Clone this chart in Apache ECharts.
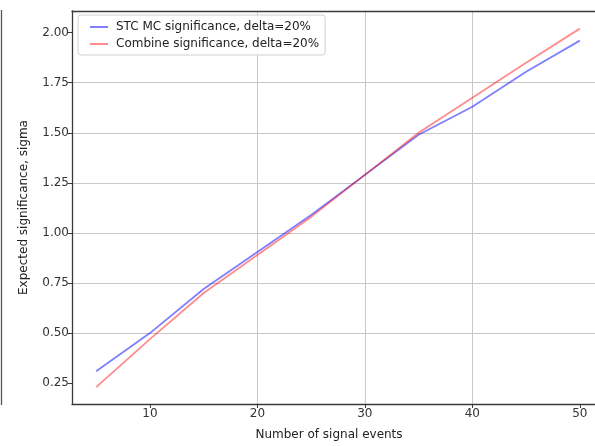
<!DOCTYPE html>
<html>
<head>
<meta charset="utf-8">
<script src="https://cdn.jsdelivr.net/npm/echarts@6/dist/echarts.min.js"></script>
<style>
  html, body { margin: 0; padding: 0; background: #fff; overflow: hidden; width: 595px; height: 446px; }
  /* the plot area continues a few pixels past the right edge of the window */
  #chart { width: 604px; height: 446px; }
</style>
</head>
<body>
<div id="chart"></div>
<script>
// Number of signal events (x)
var signalEvents = [5, 10, 15, 20, 25, 30, 35, 40, 45, 50];
// Expected significance from the STC MC method
var stcMc = [0.31, 0.50, 0.72, 0.905, 1.09, 1.29, 1.49, 1.63, 1.805, 1.96];
// Expected significance from the Combine tool
var combine = [0.23, 0.47, 0.70, 0.89, 1.08, 1.29, 1.50, 1.675, 1.85, 2.02];
// Tick positions
var xTicks = [10, 20, 30, 40, 50];
var yTicks = [0.25, 0.50, 0.75, 1.00, 1.25, 1.50, 1.75, 2.00];

var seriesNames = ['STC MC significance, delta=20%', 'Combine significance, delta=20%'];

function pairs(xs, ys) {
  return xs.map(function (x, i) { return [x, ys[i]]; });
}

var font = 'DejaVu Sans';
var spine = '#3a3a3a';
var gridColor = '#c8c8c8';
var fs = 12;

var chart = echarts.init(document.getElementById('chart'), null, { renderer: 'canvas' });
chart.setOption({
  animation: false,
  backgroundColor: '#fff',
  textStyle: { fontFamily: font },
  grid: {
    left: 72, top: 11, bottom: 37, right: 0,
    show: false
  },
  legend: {
    left: 78, top: 15,
    orient: 'vertical',
    padding: [6, 6, 5, 12],
    itemGap: 5,
    itemWidth: 18, itemHeight: 2,
    icon: 'rect',
    borderColor: '#d0d0d0', borderWidth: 1, borderRadius: 3,
    backgroundColor: 'rgba(255,255,255,0.85)',
    textStyle: { fontFamily: font, fontSize: fs, color: '#222', padding: [0, 0, 0, 3] },
    data: seriesNames
  },
  xAxis: [
    {
      type: 'value',
      min: 2.75, max: 52.25,
      name: 'Number of signal events',
      nameLocation: 'middle',
      nameGap: 25,
      nameTextStyle: { fontFamily: font, fontSize: fs, color: '#222', padding: [0, 18, 0, 0] },
      axisLine: { show: true, onZero: false, lineStyle: { color: spine, width: 1.3 } },
      axisTick: { show: true, length: 4, customValues: xTicks, lineStyle: { color: spine, width: 1 } },
      axisLabel: { customValues: xTicks, margin: 4, fontFamily: font, fontSize: fs, color: '#333' },
      splitLine: { show: true, showMinLine: false, showMaxLine: false, lineStyle: { color: gridColor, width: 1 } }
    },
    {
      // top spine
      type: 'value',
      position: 'top',
      min: 2.75, max: 52.25,
      axisLine: { show: true, onZero: false, lineStyle: { color: spine, width: 1.3 } },
      axisTick: { show: false },
      axisLabel: { show: false },
      splitLine: { show: false }
    }
  ],
  yAxis: {
    type: 'value',
    min: 0.146, max: 2.108,
    name: 'Expected significance, sigma',
    nameLocation: 'middle',
    nameGap: 42,
    nameRotate: 90,
    nameTextStyle: { fontFamily: font, fontSize: fs, color: '#222' },
    axisLine: { show: true, onZero: false, lineStyle: { color: spine, width: 1.3 } },
    axisTick: { show: true, length: 4, customValues: yTicks, lineStyle: { color: spine, width: 1 } },
    axisLabel: {
      customValues: yTicks, margin: 3, fontFamily: font, fontSize: fs, color: '#333',
      formatter: function (v) { return v.toFixed(2); }
    },
    splitLine: { show: true, showMinLine: false, showMaxLine: false, lineStyle: { color: gridColor, width: 1 } }
  },
  series: [
    {
      name: seriesNames[0],
      type: 'line',
      data: pairs(signalEvents, stcMc),
      showSymbol: false,
      symbol: 'none',
      color: 'rgba(0,0,255,0.5)',
      lineStyle: { color: 'rgba(0,0,255,0.5)', width: 1.8 },
      z: 3
    },
    {
      name: seriesNames[1],
      type: 'line',
      data: pairs(signalEvents, combine),
      showSymbol: false,
      symbol: 'none',
      color: 'rgba(255,0,0,0.45)',
      lineStyle: { color: 'rgba(255,0,0,0.45)', width: 1.8 },
      z: 4
    }
  ],
  graphic: [
    // edge of the neighbouring panel on the left
    {
      type: 'line',
      shape: { x1: 1.5, y1: 10, x2: 1.5, y2: 405 },
      style: { stroke: '#555', lineWidth: 1.3 },
      silent: true
    }
  ]
});
</script>
</body>
</html>
